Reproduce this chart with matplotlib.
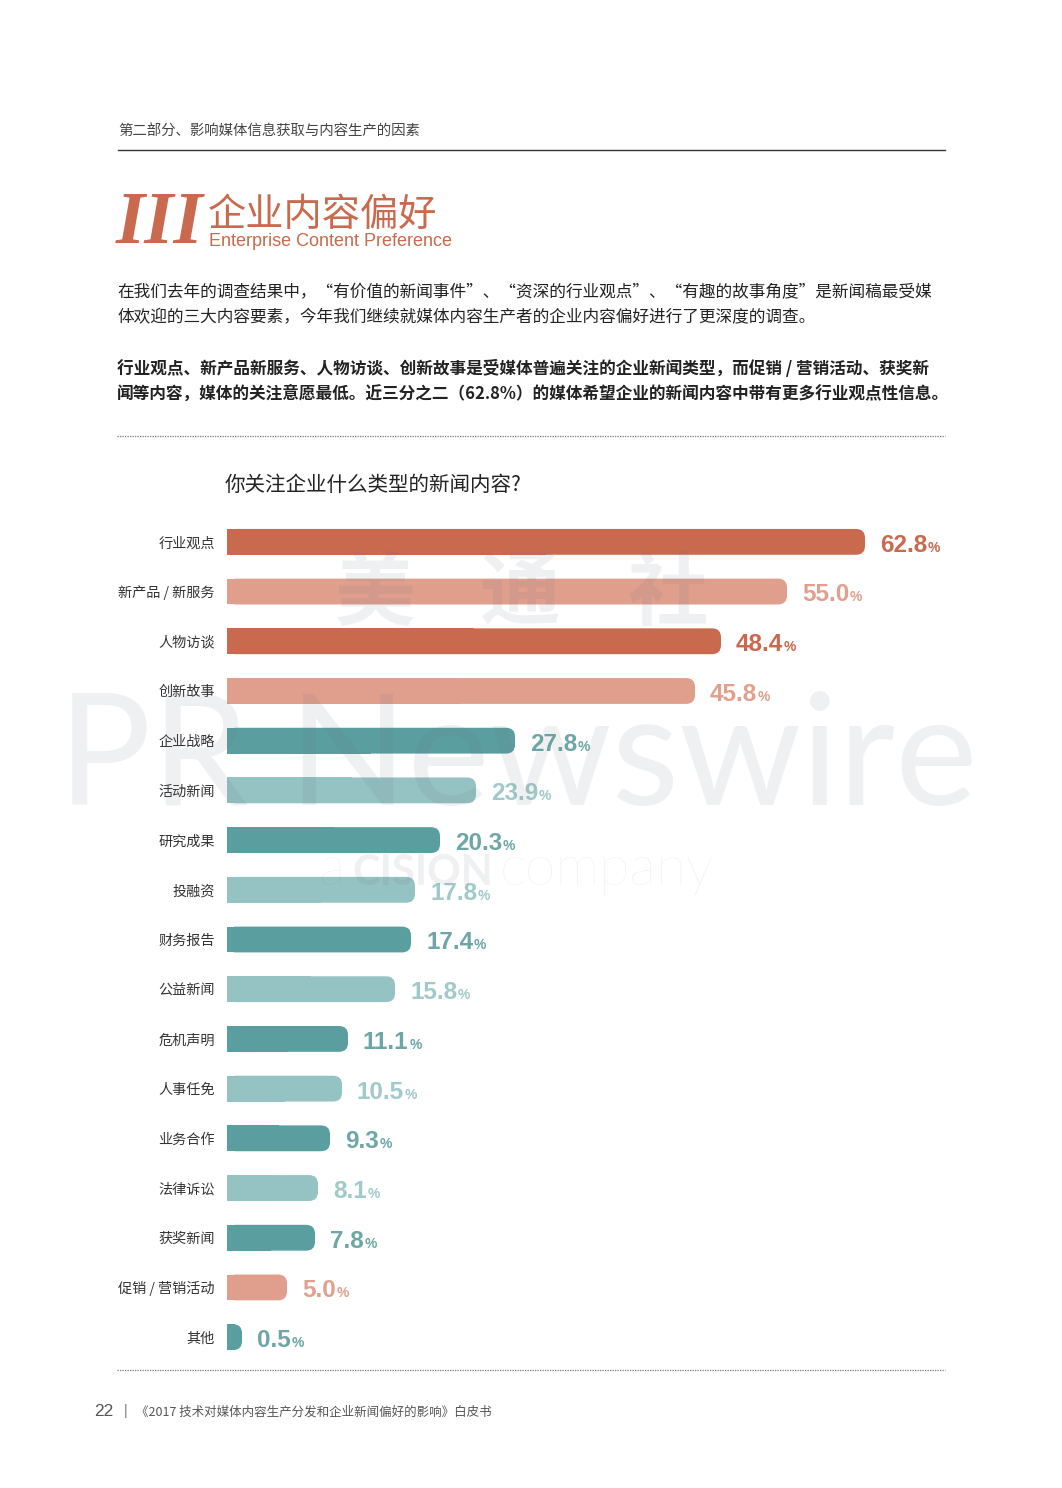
import matplotlib
matplotlib.use("Agg")
import matplotlib.pyplot as plt
from matplotlib.patches import FancyBboxPatch, Rectangle
from matplotlib.lines import Line2D

plt.rcParams['font.family'] = ['Noto Sans CJK SC', 'DejaVu Sans']

# data
categories = ['行业观点', '新产品 / 新服务', '人物访谈', '创新故事', '企业战略', '活动新闻',
              '研究成果', '投融资', '财务报告', '公益新闻', '危机声明', '人事任免',
              '业务合作', '法律诉讼', '获奖新闻', '促销 / 营销活动', '其他']
values = [62.8, 55.0, 48.4, 45.8, 27.8, 23.9, 20.3, 17.8, 17.4, 15.8, 11.1, 10.5,
          9.3, 8.1, 7.8, 5.0, 0.5]
groups = ['od', 'ol', 'od', 'ol', 'td', 'tl', 'td', 'tl', 'td', 'tl', 'td', 'tl',
          'td', 'tl', 'td', 'ol', 'td']

bar_col = {'od': '#C9694D', 'ol': '#E09F8C', 'td': '#5A9E9F', 'tl': '#95C2C2'}
lab_col = {'od': '#C9694D', 'ol': '#E0A08D', 'td': '#6EA6A6', 'tl': '#A2C9C9'}
orange = '#C9694D'

W, H = 1062, 1488
fig = plt.figure(figsize=(W / 100, H / 100), dpi=100)


def fx(x):
    return x / W


def fy(y):
    return 1 - y / H


# header
fig.text(fx(118), fy(132), '第二部分、影响媒体信息获取与内容生产的因素', fontsize=10.4,
         color='#444444', va='center')
fig.add_artist(Line2D([fx(118), fx(945)], [fy(150), fy(150)], color='#333333', lw=1))

fig.text(fx(116), fy(243), 'III', family='Liberation Serif', fontweight='bold',
         style='italic', fontsize=54, color=orange, va='baseline')
fig.text(fx(208), fy(226), '企业内容偏好', fontsize=27.5, fontweight='medium',
         color=orange, va='baseline')
fig.text(fx(209), fy(246), 'Enterprise Content Preference', family='Liberation Sans',
         fontsize=13, color=orange, va='baseline')

para1 = ['在我们去年的调查结果中，“有价值的新闻事件”、“资深的行业观点”、“有趣的故事角度”是新闻稿最受媒',
         '体欢迎的三大内容要素，今年我们继续就媒体内容生产者的企业内容偏好进行了更深度的调查。']
para2 = ['行业观点、新产品新服务、人物访谈、创新故事是受媒体普遍关注的企业新闻类型，而促销 / 营销活动、获奖新',
         '闻等内容，媒体的关注意愿最低。近三分之二（62.8%）的媒体希望企业的新闻内容中带有更多行业观点性信息。']
for i, line in enumerate(para1):
    fig.text(fx(117), fy(293 + 25 * i), line, fontsize=12, color='#222222', va='center')
for i, line in enumerate(para2):
    fig.text(fx(117), fy(369 + 25 * i), line, fontsize=12, color='#222222',
             fontweight='bold', va='center')

for yy in (436, 1370):
    fig.add_artist(Line2D([fx(117), fx(945)], [fy(yy), fy(yy)], color='#777777',
                          lw=0.9, linestyle=(0, (1, 1))))

fig.text(fx(225), fy(485), '你关注企业什么类型的新闻内容?', fontsize=14.8,
         color='#222222', va='center')

# bars
ax = fig.add_axes([fx(217), fy(1362), (967 - 217) / W, (1362 - 517) / H])
ax.set_xlim(-2, 73)
ax.set_ylim(len(values) - 0.5, -0.5)
for s in ax.spines.values():
    s.set_visible(False)
ax.set_xticks([])
ax.set_yticks(range(len(categories)))
ax.set_yticklabels(categories, fontsize=10.2, color='#333333')
ax.tick_params(axis='y', length=0, pad=1.5)

bh = 0.52
r = 0.9
aspect = 10 / 49.7
for i, (v, g) in enumerate(zip(values, groups)):
    c = bar_col[g]
    ax.add_patch(FancyBboxPatch((-1, i - bh / 2), v + 1, bh,
                                boxstyle=f'round,pad=0,rounding_size={r}',
                                mutation_aspect=aspect, fc=c, ec='none', zorder=2))
    ax.add_patch(Rectangle((-1, i - bh / 2), (v + 1) / 2, bh, fc=c, ec='none', zorder=2))
    t = ax.text(v + 1.5, i + 0.2, f'{v:.1f}', family='Liberation Sans', fontweight='bold',
                fontsize=17.5, color=lab_col[g], va='baseline', zorder=4)
    ax.annotate('%', xy=(1, 0), xycoords=t, xytext=(0.5, 3.6), textcoords='offset points',
                family='Liberation Sans', fontweight='bold', fontsize=10,
                color=lab_col[g], va='baseline', zorder=4)

# watermark
wm = dict(color='#707888', alpha=0.11, zorder=3)
for ch, xc in zip('美通社', (375, 520, 668)):
    fig.text(fx(xc), fy(595), ch, fontsize=58, fontweight='bold', ha='center',
             va='center', **wm)
fig.text(fx(58), fy(805), 'PR Newswire', family='Lato', fontsize=112,
         va='baseline', **wm)
fig.text(fx(318), fy(885), 'a', family='Lato', fontweight='light', fontsize=40,
         va='baseline', **wm)
fig.text(fx(352), fy(885), 'CISION', family='Lato', fontweight='bold', fontsize=30,
         va='baseline', **wm)
fig.text(fx(500), fy(885), 'company', family='Lato', fontweight='light', fontsize=40,
         va='baseline', **wm)

# footer
fig.text(fx(94), fy(1411), '22', family='Liberation Sans', fontsize=12.5,
         color='#555555', va='center')
fig.text(fx(124), fy(1411), '|', family='Liberation Sans', fontsize=10,
         color='#777777', va='center')
fig.text(fx(136), fy(1412), '《2017 技术对媒体内容生产分发和企业新闻偏好的影响》白皮书',
         fontsize=9, color='#555555', va='center')

fig.savefig('out.png', dpi=100)
